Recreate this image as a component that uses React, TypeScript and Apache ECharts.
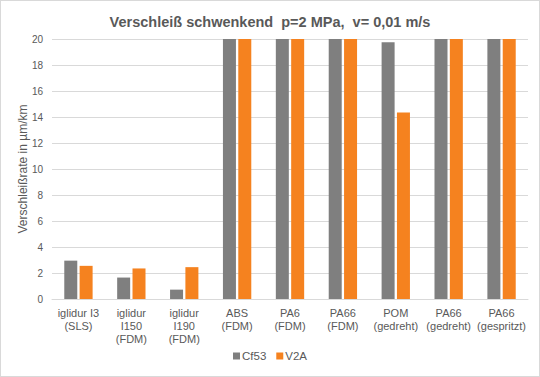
import React, { useEffect, useRef } from "react";
import * as echarts from "echarts";

const categories = [
  "iglidur I3\n(SLS)",
  "iglidur\nI150\n(FDM)",
  "iglidur\nI190\n(FDM)",
  "ABS\n(FDM)",
  "PA6\n(FDM)",
  "PA66\n(FDM)",
  "POM\n(gedreht)",
  "PA66\n(gedreht)",
  "PA66\n(gespritzt)",
];
const cf53 = [2.95, 1.65, 0.72, 20, 20, 20, 19.75, 20, 20];
const v2a = [2.55, 2.35, 2.45, 20, 20, 20, 14.35, 20, 20];
const seriesNames = ["Cf53", "V2A"];
const titleText = "Verschleiß schwenkend  p=2 MPa,  v= 0,01 m/s";
const yAxisName = "Verschleißrate in µm/km";

export default function App() {
  const ref = useRef<HTMLDivElement>(null);
  useEffect(() => {
    if (!ref.current) return;
    const chart = echarts.init(ref.current, undefined, { renderer: "svg" });
    const font = "'Liberation Sans', Arial, sans-serif";
    chart.setOption({
      animation: false,
      backgroundColor: "#ffffff",
      textStyle: { fontFamily: font },
      title: {
        text: titleText,
        left: "center",
        top: 8,
        textStyle: { fontSize: 14.5, fontWeight: "bold", color: "#595959", fontFamily: font },
      },
      grid: { left: 51, right: 11, top: 38, bottom: 77, containLabel: false },
      legend: {
        data: seriesNames,
        bottom: 9,
        left: "center",
        itemWidth: 7,
        itemHeight: 7,
        itemGap: 10,
        icon: "rect",
        textStyle: { fontSize: 11.5, color: "#595959", fontFamily: font, padding: [0, 0, 0, -3] },
      },
      xAxis: {
        type: "category",
        data: categories,
        axisLine: { lineStyle: { color: "#d9d9d9" } },
        axisTick: { show: false },
        axisLabel: { interval: 0, fontSize: 11, color: "#595959", lineHeight: 13, margin: 7, fontFamily: font },
      },
      yAxis: {
        type: "value",
        min: 0,
        max: 20,
        interval: 2,
        name: yAxisName,
        nameLocation: "middle",
        nameGap: 23,
        nameMoveOverlap: false,
        nameTextStyle: { fontSize: 12, color: "#595959", fontFamily: font },
        axisLine: { show: false },
        axisTick: { show: false },
        splitLine: { lineStyle: { color: "#d9d9d9" } },
        axisLabel: { fontSize: 10, color: "#595959", margin: 9, fontFamily: font },
      },
      series: [
        {
          name: seriesNames[0],
          type: "bar",
          data: cf53,
          barWidth: 13,
          barGap: "18%",
          itemStyle: { color: "#7f7f7f" },
        },
        {
          name: seriesNames[1],
          type: "bar",
          data: v2a,
          barWidth: 13,
          barGap: "18%",
          itemStyle: { color: "#f5821f" },
        },
      ],
    });
    return () => chart.dispose();
  }, []);
  return (
    <div
      style={{
        position: "fixed",
        left: 0,
        top: 0,
        width: 540,
        height: 377,
        boxSizing: "border-box",
        border: "1px solid #d9d9d9",
        background: "#fff",
      }}
    >
      <div ref={ref} style={{ width: 538, height: 375 }} />
    </div>
  );
}
